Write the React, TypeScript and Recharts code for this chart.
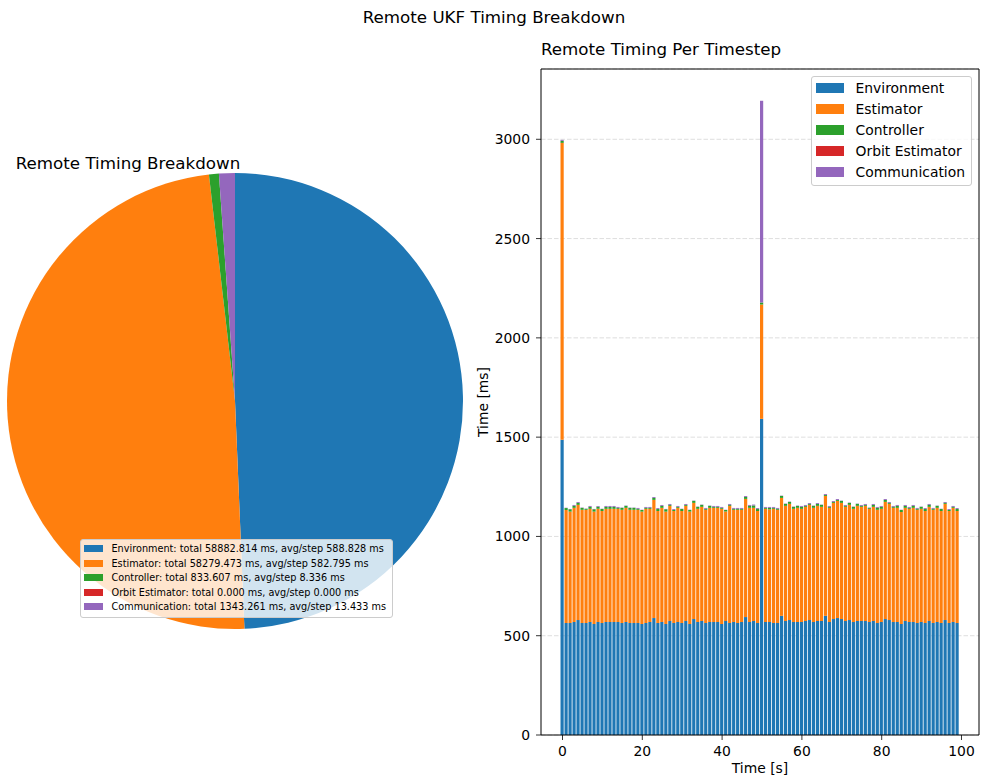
import { PieChart, Pie, Cell, BarChart, Bar, XAxis, YAxis, CartesianGrid, Legend, ReferenceLine } from "recharts";

// tab10 colours, matplotlib defaults
const COLORS = ["#1f77b4", "#ff7f0e", "#2ca02c", "#d62728", "#9467bd"];
const components = ["Environment", "Estimator", "Controller", "Orbit Estimator", "Communication"];

// totals as printed in the pie legend (ms), 100 steps
const totals = [58882.814, 58279.473, 833.607, 0.0, 1343.261];
const STEPS = 100;

// per-step timings (ms)
const envMs = [
  1487, 564, 564, 569, 579, 564, 564, 569, 559, 569, 564, 569, 569, 569, 569, 564, 569, 564, 564, 564,
  559, 564, 569, 589, 564, 569, 559, 574, 564, 569, 564, 574, 559, 584, 569, 574, 564, 569, 569, 569,
  559, 574, 564, 569, 564, 569, 594, 569, 574, 564, 1592, 569, 569, 564, 564, 600, 574, 579, 569, 569,
  569, 574, 579, 569, 574, 574, 600, 569, 584, 589, 584, 574, 579, 569, 574, 574, 574, 569, 574, 564,
  569, 584, 579, 569, 569, 559, 574, 569, 569, 564, 569, 564, 574, 564, 569, 564, 579, 564, 569, 564,
];
const estMs = [
  1495, 569, 561, 575, 580, 570, 570, 570, 566, 570, 564, 570, 570, 570, 570, 570, 575, 570, 570, 570,
  566, 575, 570, 595, 564, 575, 566, 580, 564, 575, 564, 580, 566, 585, 570, 575, 570, 575, 575, 575,
  580, 551, 590, 565, 570, 565, 595, 575, 570, 564, 576, 570, 567, 575, 570, 594, 580, 585, 570, 575,
  570, 575, 580, 575, 580, 575, 604, 575, 585, 590, 585, 575, 580, 570, 580, 575, 580, 570, 575, 570,
  570, 590, 585, 575, 575, 564, 570, 570, 575, 570, 570, 564, 575, 570, 575, 564, 585, 564, 575, 564,
];
const ctrlMs = [
  10, 10, 12, 10, 10, 10, 5, 10, 12, 10, 10, 10, 10, 10, 5, 10, 10, 10, 10, 5,
  8, 5, 5, 10, 10, 10, 12, 5, 5, 5, 10, 5, 8, 10, 10, 10, 5, 10, 5, 5,
  5, 8, 5, 5, 5, 5, 10, 10, 12, 10, 10, 5, 8, 5, 5, 10, 10, 10, 10, 10,
  10, 5, 5, 10, 10, 10, 5, 5, 5, 5, 10, 5, 10, 10, 10, 5, 5, 5, 10, 10,
  10, 10, 5, 5, 10, 10, 10, 5, 10, 5, 10, 10, 10, 5, 10, 10, 5, 5, 5, 10,
];
const orbitMs = [
  0, 0, 0, 0, 0, 0, 0, 0, 0, 0, 0, 0, 0, 0, 0, 0, 0, 0, 0, 0,
  0, 0, 0, 0, 0, 0, 0, 0, 0, 0, 0, 0, 0, 0, 0, 0, 0, 0, 0, 0,
  0, 0, 0, 0, 0, 0, 0, 0, 0, 0, 0, 0, 0, 0, 0, 0, 0, 0, 0, 0,
  0, 0, 0, 0, 0, 0, 0, 0, 0, 0, 0, 0, 0, 0, 0, 0, 0, 0, 0, 0,
  0, 0, 0, 0, 0, 0, 0, 0, 0, 0, 0, 0, 0, 0, 0, 0, 0, 0, 0, 0,
];
const commMs = [
  5, 1.5, 1.5, 4.5, 4.5, 1.5, 1.5, 4.5, 1.5, 4.5, 1.5, 4.5, 4.5, 4.5, 4.5, 1.5, 1.5, 1.5, 1.5, 4.5,
  1.5, 4.5, 4.5, 4.5, 4.5, 4.5, 1.5, 4.5, 4.5, 4.5, 1.5, 4.5, 1.5, 1.5, 1.5, 1.5, 4.5, 1.5, 4.5, 4.5,
  4.5, 1.5, 4.5, 4.5, 4.5, 4.5, 4.5, 4.5, 4.5, 4.5, 1016, 4.5, 4.5, 4.5, 4.5, 1.5, 1.5, 1.5, 1.5, 1.5,
  4.5, 4.5, 4.5, 1.5, 4.5, 1.5, 4.5, 4.5, 4.5, 4.5, 1.5, 4.5, 1.5, 1.5, 1.5, 4.5, 4.5, 1.5, 4.5, 4.5,
  4.5, 4.5, 4.5, 4.5, 4.5, 1.5, 4.5, 4.5, 4.5, 4.5, 1.5, 4.5, 4.5, 4.5, 1.5, 1.5, 4.5, 4.5, 4.5, 4.5,
];

const xTicks = [0, 20, 40, 60, 80, 100];
const yTicks = [0, 500, 1000, 1500, 2000, 2500, 3000];
const X_DOMAIN: [number, number] = [-5.39, 104.39];
const Y_DOMAIN: [number, number] = [0, 3354];

const rows = envMs.map((v, i) => ({
  t: i, env: v, est: estMs[i], ctrl: ctrlMs[i], orbit: orbitMs[i], comm: commMs[i],
}));
const pieData = components.map((name, i) => ({ name, value: totals[i] }));
const pieLabels = components.map(
  (name, i) => `${name}: total ${totals[i].toFixed(3)} ms, avg/step ${(totals[i] / STEPS).toFixed(3)} ms`
);

const FONT = "DejaVu Sans, sans-serif";
const tickStyle = { fill: "#000", fontSize: 13.9, fontFamily: FONT };

type LegendItem = { label: string; color: string };

function LegendBox({ items, fontSize, swW, swH, gap, rowH, pad }: {
  items: LegendItem[]; fontSize: number; swW: number; swH: number; gap: number; rowH: number; pad: string;
}) {
  return (
    <div style={{
      background: "rgba(255,255,255,0.8)", border: "1px solid #cccccc", borderRadius: 3,
      padding: pad, fontFamily: FONT, fontSize, color: "#000", whiteSpace: "nowrap",
    }}>
      {items.map((it) => (
        <div key={it.label} style={{ display: "flex", alignItems: "center", height: rowH }}>
          <span style={{ display: "inline-block", width: swW, height: swH, background: it.color, marginRight: gap }} />
          <span>{it.label}</span>
        </div>
      ))}
    </div>
  );
}

function PiePanel() {
  return (
    <PieChart width={470} height={784} margin={{ top: 0, right: 0, bottom: 0, left: 0 }}>
      <Pie data={pieData} dataKey="value" nameKey="name" cx={235} cy={401} outerRadius={228}
        startAngle={90} endAngle={-270} stroke="none" isAnimationActive={false}>
        {pieData.map((d, i) => <Cell key={d.name} fill={COLORS[i]} />)}
      </Pie>
      <Legend
        layout="vertical" align="center" verticalAlign="middle"
        wrapperStyle={{ left: 80, top: 539, width: "auto", height: "auto" }}
        content={() => (
          <LegendBox items={pieLabels.map((label, i) => ({ label, color: COLORS[i] }))}
            fontSize={9.7} swW={19} swH={7} gap={8.5} rowH={14.5} pad="1.5px 6px 2.5px 3px" />
        )}
      />
    </PieChart>
  );
}

function TimestepPanel() {
  return (
    <BarChart width={523} height={784} data={rows} margin={{ top: 69, right: 14, bottom: 0, left: 0 }}>
      <CartesianGrid vertical={false} stroke="#d6d6d6" strokeWidth={0.8} strokeDasharray="4.5 2" />
      <XAxis dataKey="t" type="number" domain={X_DOMAIN} ticks={xTicks} allowDataOverflow
        height={49} tick={tickStyle} tickSize={5} tickMargin={6}
        axisLine={{ stroke: "#000", strokeWidth: 1 }} tickLine={{ stroke: "#000", strokeWidth: 0.8 }}
        label={{ value: "Time [s]", position: "insideBottom", offset: 11, fill: "#000", fontSize: 13.9, fontFamily: FONT }} />
      <YAxis type="number" domain={Y_DOMAIN} ticks={yTicks} width={71} allowDataOverflow
        tick={tickStyle} tickSize={5} tickMargin={6}
        axisLine={{ stroke: "#000", strokeWidth: 1 }} tickLine={{ stroke: "#000", strokeWidth: 0.8 }}
        label={{ value: "Time [ms]", angle: -90, position: "insideLeft", offset: 13, fill: "#000",
          fontSize: 13.9, fontFamily: FONT, style: { textAnchor: "middle" } }} />
      <Bar dataKey="env" name="Environment" stackId="s" fill={COLORS[0]} barSize={3.2} isAnimationActive={false} />
      <Bar dataKey="est" name="Estimator" stackId="s" fill={COLORS[1]} barSize={3.2} isAnimationActive={false} />
      <Bar dataKey="ctrl" name="Controller" stackId="s" fill={COLORS[2]} barSize={3.2} isAnimationActive={false} />
      <Bar dataKey="orbit" name="Orbit Estimator" stackId="s" fill={COLORS[3]} barSize={3.2} isAnimationActive={false} />
      <Bar dataKey="comm" name="Communication" stackId="s" fill={COLORS[4]} barSize={3.2} isAnimationActive={false} />
      {/* top and right spines */}
      <ReferenceLine y={Y_DOMAIN[1]} stroke="#000" strokeWidth={1} />
      <ReferenceLine x={X_DOMAIN[1]} stroke="#000" strokeWidth={1} />
      <Legend
        layout="vertical" align="center" verticalAlign="middle"
        wrapperStyle={{ right: 21, top: 76, left: "auto", width: "auto", height: "auto" }}
        content={() => (
          <LegendBox items={components.map((label, i) => ({ label, color: COLORS[i] }))}
            fontSize={13.9} swW={28} swH={10} gap={12} rowH={20.8} pad="1px 6px 3px 4px" />
        )}
      />
    </BarChart>
  );
}

export default function App() {
  return (
    <div style={{ position: "absolute", left: 0, top: 0, width: 993, height: 784, background: "#fff", fontFamily: FONT }}>
      <div style={{ position: "absolute", left: 0, top: 0 }}>
        <PiePanel />
      </div>
      <div style={{ position: "absolute", left: 470, top: 0 }}>
        <TimestepPanel />
      </div>
      <svg width={993} height={784} style={{ position: "absolute", left: 0, top: 0, pointerEvents: "none" }}>
        <text x={494} y={23} textAnchor="middle" fontSize={16.7} fontFamily={FONT} fill="#000">Remote UKF Timing Breakdown</text>
        <text x={128} y={169} textAnchor="middle" fontSize={16.7} fontFamily={FONT} fill="#000">Remote Timing Breakdown</text>
        <text x={541} y={55} textAnchor="start" fontSize={16.7} fontFamily={FONT} fill="#000">Remote Timing Per Timestep</text>
      </svg>
    </div>
  );
}
